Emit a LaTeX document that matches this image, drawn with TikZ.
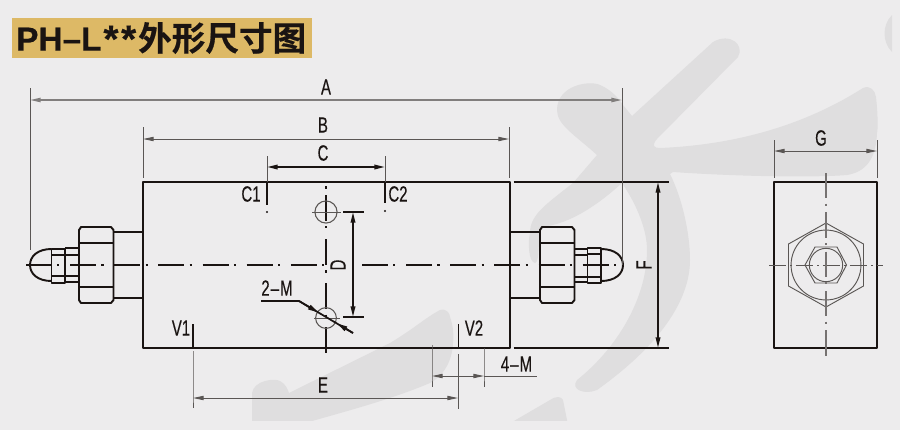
\documentclass[tikz,border=0pt]{standalone}
\usepackage{fontspec}
\usetikzlibrary{arrows.meta}
\setmainfont{Liberation Sans}
\newfontfamily\dimfont[FakeStretch=0.68,FakeBold=0.3]{Liberation Sans}
\newfontfamily\titlefont[FakeBold=0.4]{Liberation Sans Bold}
\newfontfamily\cjk[FakeBold=0.5]{Noto Sans CJK SC Bold}
\definecolor{ink}{HTML}{1A1412}
\definecolor{thin}{HTML}{5A5654}
\definecolor{wm}{HTML}{DFDEDF}
\definecolor{bgc}{HTML}{EDECED}
\definecolor{gold}{HTML}{DDB966}
\newcommand{\dimdash}{\kern0.8pt–\kern0.8pt}
\tikzset{
  x=0.75pt,y=-0.75pt,
  obj/.style={draw=ink,line width=1.8pt,line join=round},
  objm/.style={draw=ink,line width=1.45pt,line join=round},
  thinl/.style={draw=thin,line width=0.6pt},
  extl/.style={draw=thin,line width=0.7pt},
  medl/.style={draw=ink,line width=1.3pt},
  dimthin/.style={draw=thin,line width=0.7pt,{Stealth[length=8pt,width=3.2pt,inset=0pt]}-{Stealth[length=8pt,width=3.2pt,inset=0pt]}},
  dimthick/.style={draw=ink,line width=1.3pt,{Stealth[length=8pt,width=3.4pt,inset=0pt]}-{Stealth[length=8pt,width=3.4pt,inset=0pt]}},
  lbl/.style={font=\dimfont\fontsize{16.5pt}{17pt}\selectfont,text=ink,inner sep=0pt},
  centre/.style={draw=ink,line width=1.3pt,dash pattern=on 19.5pt off 4pt on 1.6pt off 8pt},
  centres/.style={draw=thin,line width=0.7pt,dash pattern=on 13pt off 3pt on 1.2pt off 3pt},
  centrev/.style={draw=ink!60,line width=1pt,dash pattern=on 19pt off 4pt on 1.5pt off 5pt},
  dot/.style={circle,fill=ink,inner sep=0pt,minimum size=1.7pt},
}
\begin{document}
\begin{tikzpicture}
\useasboundingbox (0,0) rectangle (900,430);
\fill[bgc] (0,0) rectangle (900,430);
% watermark
\begin{scope}
\clip (0,10) rectangle (892,420);
\fill[wm] (632,116) -- (713,42) .. controls (730,32) and (745,45) .. (738,57)
  -- (656,140) .. controls (652,146) and (654,148) .. (660,148)
  .. controls (730,145) and (800,128) .. (863,88)
  .. controls (870,85) and (875,90) .. (876,97)
  .. controls (878,115) and (878,130) .. (877,133)
  .. controls (876,160) and (865,172) .. (847,175)
  .. controls (810,178) and (730,176) .. (673,172)
  -- (670,174) .. controls (683,200) and (690,235) .. (690,260)
  .. controls (690,300) and (660,345) .. (597,390)
  .. controls (585,395) and (570,390) .. (577,380)
  .. controls (615,350) and (647,300) .. (647,250)
  .. controls (647,230) and (637,205) .. (622,183)
  .. controls (600,203) and (570,225) .. (540,227)
  .. controls (538,240) and (540,262) .. (535,263)
  .. controls (528,262) and (528,240) .. (530,233)
  .. controls (530,215) and (545,205) .. (573,183)
  -- (597,155) .. controls (575,135) and (557,125) .. (557,110)
  .. controls (557,85) and (590,80) .. (600,85)
  .. controls (612,90) and (620,100) .. (623,105)
  -- cycle;
\fill[wm] (252,425) -- (252,393) .. controls (254,380) and (275,378) .. (280,381)
  .. controls (286,384) and (288,390) .. (289,393)
  -- (390,343) .. controls (415,328) and (425,318) .. (440,310)
  .. controls (447,308) and (450,314) .. (450,317)
  .. controls (453,325) and (454,335) .. (453,343)
  .. controls (452,365) and (440,378) .. (430,383)
  .. controls (390,400) and (340,413) .. (298,425) -- cycle;
\fill[wm] (507,425) -- (550,400) .. controls (556,396) and (561,396) .. (563,400) -- (568,425) -- cycle;
\fill[wm] (892,15) .. controls (882,25) and (882,42) .. (892,52) -- cycle;
\end{scope}
% title
\node[fill=gold,inner sep=0pt,minimum width=225pt,minimum height=30pt] (title) at (162,38) {};
\node[anchor=west,inner sep=0pt,text=ink] (titletext) at (16,38) {\fontsize{25pt}{28pt}\selectfont\titlefont PH–L\kern1.5pt\raisebox{-1.2pt}{\fontsize{29pt}{30pt}\selectfont *}\kern2pt\raisebox{-1.2pt}{\fontsize{29pt}{30pt}\selectfont *}\kern1.5pt\cjk\fontsize{25.2pt}{28pt}\selectfont 外形尺寸图};
% key coordinates
\coordinate (A1) at (30,100); \coordinate (A2) at (622,100);
\coordinate (B1) at (143,139); \coordinate (B2) at (509,139);
\coordinate (C1) at (267,167); \coordinate (C2) at (385,167);
\coordinate (D1) at (353,212); \coordinate (D2) at (353,317);
\coordinate (E1) at (193,398); \coordinate (E2) at (458,398);
\coordinate (F1) at (658,182); \coordinate (F2) at (658,348);
\coordinate (G1) at (774,151); \coordinate (G2) at (877,151);
\coordinate (M1) at (432,376); \coordinate (M2) at (484,376); \coordinate (M3) at (537,376);
\coordinate (L1) at (261,301); \coordinate (L2) at (299,301); \coordinate (L3) at (353,333);
\coordinate (H1) at (326,212); \coordinate (H2) at (326,318);
% left fitting
\draw[objm] (143,232) -- (114,232) (143,298) -- (114,298);
\draw[objm] (81,227) -- (111,227) -- (113.5,230) -- (113.5,300) -- (111,303) -- (81,303) -- (79,300) -- (79,230) -- cycle;
\draw[objm] (79,243) -- (113,243) (79,287) -- (113,287);
\draw[objm] (51.5,249) -- (65,249) -- (65,283) -- (51.5,283) -- cycle (51.5,255) -- (65,255) (51.5,276) -- (65,276);
\draw[objm] (65,248) -- (79,248) (65,255) -- (79,255) (65,276) -- (79,276) (65,282) -- (79,282);
\draw[objm] (51.5,249) .. controls (38,249) and (30,256) .. (30,265) .. controls (30,274) and (38,281) .. (51.5,281);
% right fitting
\draw[objm] (510,232) -- (540,232) (510,298) -- (540,298);
\draw[objm] (542,227) -- (572,227) -- (574.5,230) -- (574.5,300) -- (572,303) -- (542,303) -- (540,300) -- (540,230) -- cycle;
\draw[objm] (540,243) -- (574,243) (540,287) -- (574,287);
\draw[objm] (574,249) -- (587,249) (574,255) -- (587,255) (574,277) -- (587,277) (574,282) -- (587,282);
\draw[objm] (587.5,248) -- (601,248) -- (601,283) -- (587.5,283) -- cycle (587.5,254) -- (601,254) (587.5,277) -- (601,277);
\draw[objm] (601,249) .. controls (615,249) and (623,256) .. (623,265) .. controls (623,274) and (615,281) .. (601,281);
% body
\draw[obj] (143,182) rectangle (510,348);
\draw[obj] (513.5,182) -- (669,182) (513.5,348) -- (669,348);
% centre lines
\draw[centre] (26,265) -- (325,265);
\draw[centre] (362,265) -- (625,265);
\draw[centre] (326,195) -- (326,355);
\fill[ink] (325.2,185.5) rectangle (326.8,188.5);
% holes
\draw[thinl,line width=0.8pt] (H1) circle[radius=8.3pt];
\draw[thinl] (312,212) -- (341,212);
\draw[thinl,line width=0.8pt] (H2) circle[radius=7.8pt];
\draw[thinl] (314,318) -- (340,318);
% ticks
\draw[medl] (267,182) -- (267,205);
\draw[medl] (385,182) -- (385,203);
\node[dot] (dotC1) at (267,212) {};
\node[dot] (dotC2) at (385,211) {};
\draw[medl] (193,324) -- (193,348);
\draw[medl] (458.5,324) -- (458.5,348);
% extension lines
\draw[extl] (A1) ++(0,-12) -- ++(0,162);
\draw[extl] (A2) ++(0,-12) -- ++(0,177);
\draw[extl] (B1) ++(0,-12) -- ++(0,51);
\draw[extl] (B2) ++(0,-12) -- ++(0,51);
\draw[extl] (C1) ++(0,-11) -- ++(0,26);
\draw[extl] (C2) ++(0,-11) -- ++(0,26);
\draw[extl] (G1) ++(0,-11) -- ++(0,38);
\draw[extl] (G2) ++(0,-11) -- ++(0,38);
\draw[extl] (193,351) -- (E1) -- ++(0,10);
\draw[extl] (458.5,354) -- (458.5,409);
\draw[extl] (432,345) -- (M1) -- ++(0,11);
\draw[extl] (484,348) -- (M2) -- ++(0,11);
% dimensions
\draw[dimthin,line width=1.1pt,draw=ink!55] (A1) -- (A2);
\draw[dimthin] (B1) -- (B2);
\draw[dimthick] (C1) -- (C2);
\draw[dimthick] (D1) -- (D2);
\draw[medl,line width=1.6pt] (343,212) -- (364,212) (343,317) -- (364,317);
\draw[dimthin] (E1) -- (E2);
\draw[dimthick] (F1) -- (F2);
\draw[dimthin] (G1) -- (G2);
\draw[dimthin] (M1) -- (M2);
\draw[thinl] (M2) -- (M3);
% 2-M leader
\draw[medl] (L1) -- (L2) -- (L3);
\path (L2) -- (L3) coordinate[pos=0.36] (La) coordinate[pos=0.70] (Lb);
\draw[medl,-{Stealth[length=8pt,width=3.6pt,inset=0pt]}] (L2) -- (La);
\draw[medl,-{Stealth[length=8pt,width=3.6pt,inset=0pt]}] (L3) -- (Lb);
% labels
\node[lbl] (lA) at (326,87) {A};
\node[lbl] (lB) at (323,125) {B};
\node[lbl] (lC) at (323,153) {C};
\node[lbl,rotate=90] (lD) at (338,265) {D};
\node[lbl] (lE) at (323,385) {E};
\node[lbl,rotate=90] (lF) at (644,265) {F};
\node[lbl] (lG) at (821,138) {G};
\node[lbl] (lC1) at (251,194) {C1};
\node[lbl] (lC2) at (398,194) {C2};
\node[lbl] (lV1) at (181,328) {V1};
\node[lbl] (lV2) at (474,328) {V2};
\node[lbl] (l2M) at (277,288) {2\dimdash M};
\node[lbl] (l4M) at (516.5,364) {4\dimdash M};
% side view
\draw[obj] (774,182) rectangle (877,348);
\draw[thinl,line width=0.7pt] (826,223) -- (863.5,244) -- (863.5,286) -- (826,307) -- (788.5,286) -- (788.5,244) -- cycle;
\draw[thinl,line width=0.7pt] (826,265) circle[radius=26.2pt];
\draw[thinl,line width=0.7pt] (805,265) -- (815,247) -- (837,247) -- (846.5,265) -- (837,283) -- (815,283) -- cycle;
\draw[thinl,line width=0.7pt] (826,265) circle[radius=12.5pt];
\draw[centres] (769,265) -- (883,265);
\draw[centrev] (826,173) -- (826,357);
\end{tikzpicture}
\end{document}
